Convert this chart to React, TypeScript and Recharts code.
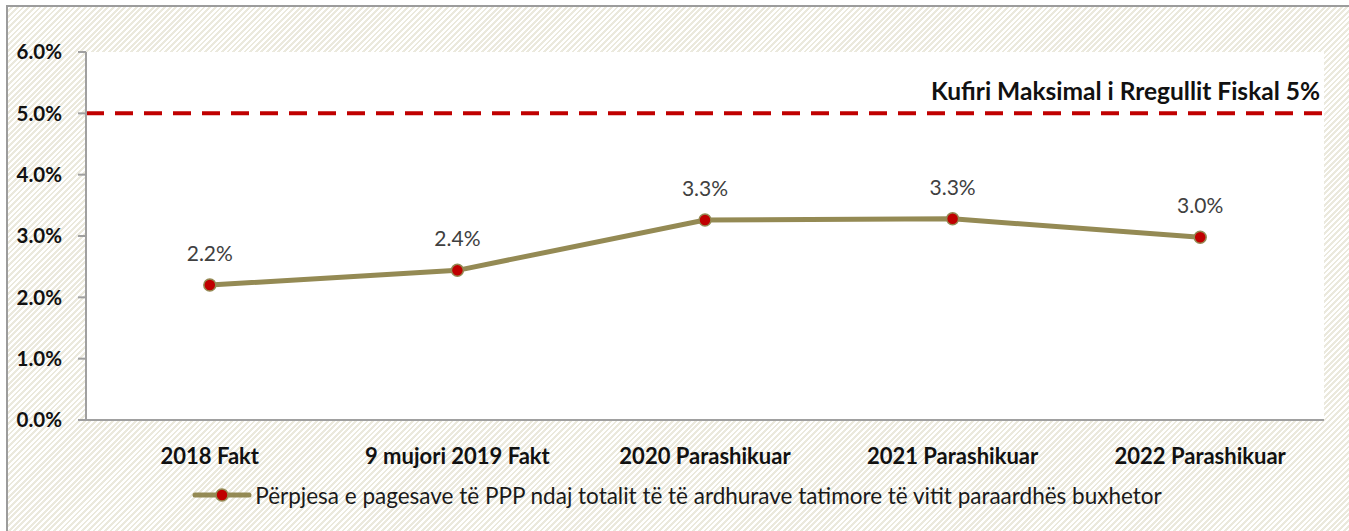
import React from "react";
import {
  LineChart,
  Line,
  XAxis,
  YAxis,
  CartesianGrid,
  ReferenceLine,
  LabelList,
  Legend,
} from "recharts";

const categories = [
  "2018 Fakt",
  "9 mujori 2019 Fakt",
  "2020 Parashikuar",
  "2021 Parashikuar",
  "2022 Parashikuar",
];
const ratio = [2.2, 2.44, 3.26, 3.28, 2.98];
const yTicks = [0, 1, 2, 3, 4, 5, 6];
const boundaryTicks = [0, 1, 2, 3, 4, 5];
const fiscalLimit = 5;
const limitLabel = "Kufiri Maksimal i Rregullit Fiskal 5%";
const seriesName =
  "Përpjesa e pagesave të PPP ndaj totalit të të ardhurave tatimore të vitit paraardhës buxhetor";

const FONT = "Lato, 'Open Sans', sans-serif";
const OLIVE = "#948a54";
const RED = "#c00000";
const AXIS = "#a0a0a0";

const data = categories.map((c, i) => ({ name: c, idx: i + 0.5, ratio: ratio[i] }));

function LegendContent() {
  return (
    <div
      style={{
        height: 40,
        paddingTop: 10,
        paddingLeft: 22,
        boxSizing: "border-box",
        display: "flex",
        justifyContent: "center",
        alignItems: "center",
        fontFamily: FONT,
        fontSize: 22.5,
        color: "#1a1a1a",
      }}
    >
      <svg width={60} height={16} style={{ marginRight: 3 }}>
        <line x1={3} y1={8} x2={57} y2={8} stroke={OLIVE} strokeWidth={5} strokeLinecap="round" />
        <circle cx={30} cy={8} r={6} fill={RED} stroke={OLIVE} strokeWidth={1.5} />
      </svg>
      <span>{seriesName}</span>
    </div>
  );
}

function LimitLabel(props: any) {
  const vb = props.viewBox || {};
  return (
    <text
      x={vb.x + vb.width - 4}
      y={vb.y - 13}
      textAnchor="end"
      fontFamily={FONT}
      fontWeight={700}
      fontSize={24.5}
      fill="#111"
    >
      {limitLabel}
    </text>
  );
}

export default function App() {
  return (
    <div
      style={{
        position: "absolute",
        left: 6,
        top: 5,
        width: 1360,
        height: 540,
        border: "2px solid #9c9c9c",
        background:
          "repeating-linear-gradient(135deg, #ffffff 0px, #ffffff 2px, #ebe9dd 2px, #ebe9dd 4px)",
        boxSizing: "border-box",
      }}
    >
      <LineChart
        width={1345}
        height={520}
        data={data}
        margin={{ top: 45, right: 29, left: 0, bottom: 17 }}
      >
        <CartesianGrid fill="#ffffff" horizontal={false} vertical={false} xAxisId="cat" />
        <XAxis
          xAxisId="num"
          type="number"
          dataKey="idx"
          domain={[0, 5]}
          ticks={boundaryTicks}
          tick={false}
          mirror
          tickSize={7}
          height={0}
          axisLine={false}
          tickLine={{ stroke: AXIS, strokeWidth: 2 }}
        />
        <XAxis
          xAxisId="cat"
          dataKey="name"
          scale="band"
          axisLine={{ stroke: AXIS, strokeWidth: 2 }}
          tickLine={false}
          tickMargin={22}
          height={50}
          interval={0}
          tick={{ fontFamily: FONT, fontWeight: 700, fontSize: 22, fill: "#111" }}
        />
        <YAxis
          domain={[0, 6]}
          ticks={yTicks}
          width={78}
          tickSize={8}
          tickMargin={16}
          tickFormatter={(v: number) => `${v.toFixed(1)}%`}
          axisLine={{ stroke: AXIS, strokeWidth: 2 }}
          tickLine={{ stroke: AXIS, strokeWidth: 2 }}
          tick={{ fontFamily: FONT, fontWeight: 700, fontSize: 20.5, fill: "#111" }}
        />
        <ReferenceLine
          xAxisId="cat"
          y={fiscalLimit}
          stroke={RED}
          strokeWidth={4}
          strokeDasharray="18 11"
          label={<LimitLabel />}
        />
        <Legend verticalAlign="bottom" height={40} content={<LegendContent />} />
        <Line
          xAxisId="cat"
          dataKey="ratio"
          name={seriesName}
          stroke={OLIVE}
          strokeWidth={5}
          dot={{ r: 6, fill: RED, stroke: OLIVE, strokeWidth: 1.5 }}
          isAnimationActive={false}
        >
          <LabelList
            dataKey="ratio"
            position="top"
            offset={24}
            formatter={(v: number) => `${v.toFixed(1)}%`}
            style={{ fontFamily: FONT, fontSize: 21, fill: "#404040" }}
          />
        </Line>
      </LineChart>
    </div>
  );
}
